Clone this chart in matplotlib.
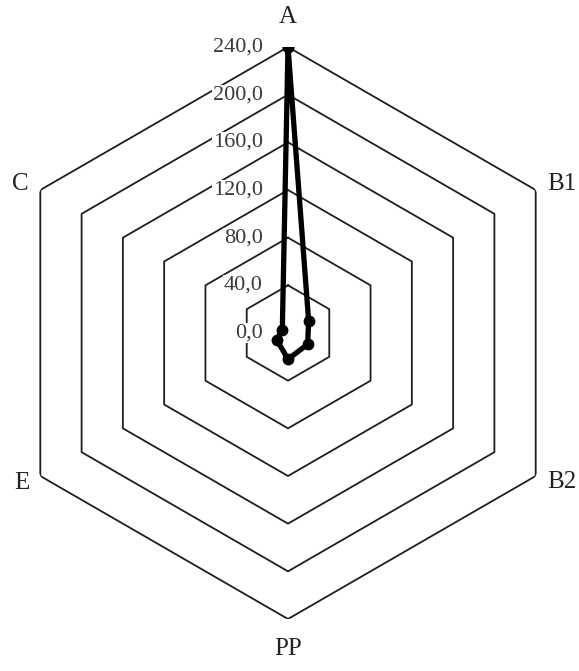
import numpy as np
import matplotlib
matplotlib.use("Agg")
import matplotlib.pyplot as plt
from matplotlib.transforms import offset_copy

# --- data ---
categories = ["A", "B1", "B2", "PP", "E", "C"]
values = [240.0, 20.0, 19.0, 22.0, 11.0, 5.5]
ring_values = [40, 80, 120, 160, 200, 240]
tick_values = [0, 40, 80, 120, 160, 200, 240]
tick_labels = ["0,0", "40,0", "80,0", "120,0", "160,0", "200,0", "240,0"]

plt.rcParams["font.family"] = ["Liberation Serif", "DejaVu Serif"]

W, H = 579, 671
fig = plt.figure(figsize=(W / 100, H / 100), dpi=100)

# polar axes centred at (288, 333) px, outer ring radius ~286 px
cx, cy, R = 288, 333, 286
ax = fig.add_axes([(cx - R) / W, (H - cy - R) / H, 2 * R / W, 2 * R / H],
                  projection="polar")
ax.set_theta_zero_location("N")
ax.set_theta_direction(-1)
ax.set_ylim(0, 240)
ax.axis("off")

n = len(categories)
theta = np.arange(n) * 2 * np.pi / n
theta_closed = np.append(theta, theta[0])

# hexagonal rings
for rv in ring_values:
    ax.plot(theta_closed, [rv] * (n + 1), color="#1e1e1e", lw=1.3, zorder=1)

# data line
vals_closed = values + values[:1]
ax.plot(theta_closed, vals_closed, color="black", lw=3.8, marker="o",
        markersize=7.5, solid_joinstyle="round", zorder=4)

# radial tick labels, left of the vertical axis
tick_tr = offset_copy(ax.transData, fig=fig, x=-25, y=0, units="dots")
for tv, tl in zip(tick_values, tick_labels):
    ax.text(0, tv, tl, transform=tick_tr, ha="right", va="center",
            fontsize=16, color="#3a3a3a", zorder=3,
            bbox=dict(facecolor="white", edgecolor="none", pad=0.5))

# category labels around the outside
for th, cat in zip(theta, categories):
    dx, dy = np.sin(th), np.cos(th)
    pad = 19 if abs(dx) < 0.1 else 13
    tr = offset_copy(ax.transData, fig=fig, x=dx * pad, y=dy * pad, units="dots")
    ha = "center" if abs(dx) < 0.1 else ("left" if dx > 0 else "right")
    va = "center" if abs(dx) > 0.1 else ("bottom" if dy > 0 else "top")
    ax.text(th, 240, cat, transform=tr, ha=ha, va=va, fontsize=18,
            color="#222222")

fig.savefig("out.png", dpi=100, facecolor="white")
